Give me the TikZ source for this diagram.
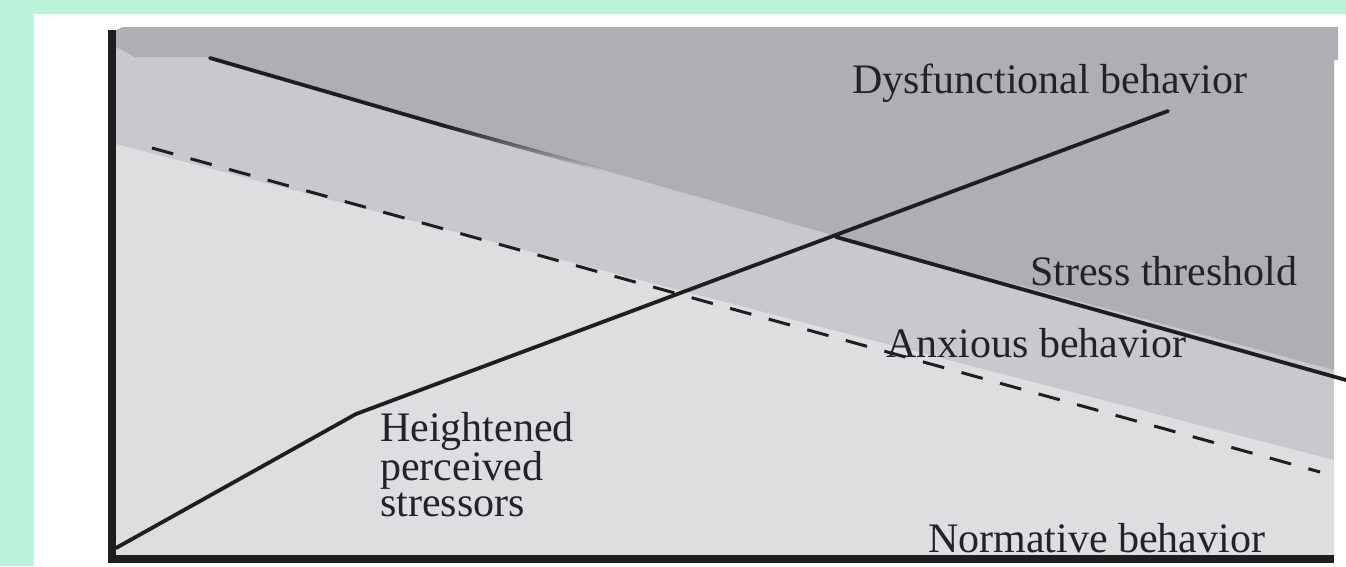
\documentclass[tikz,border=0pt]{standalone}
\usepackage{fontspec}
\setmainfont{Liberation Serif}
\usetikzlibrary{fadings}
\definecolor{mint}{RGB}{186,244,219}
\definecolor{darkgr}{RGB}{174,175,179}
\definecolor{midgr}{RGB}{200,201,204}
\definecolor{lightgr}{RGB}{221,222,224}
\definecolor{ink}{RGB}{34,34,44}
\definecolor{linec}{RGB}{30,30,32}
\begin{document}
\begin{tikzpicture}[x=1pt,y=-1pt,
  lbl/.style={anchor=base west,inner sep=0pt,text=ink,font=\fontsize{42}{36}\selectfont},
  curve/.style={draw=linec,line width=3.8pt,line cap=round,line join=round},
  dashline/.style={draw=linec,line width=3pt,dash pattern=on 22pt off 18pt},
  axis/.style={draw=linec,line width=8pt,line join=miter}]
\useasboundingbox (0,0) rectangle (1346,566);
\fill[mint] (0,0) rectangle (1346,566);
\fill[white] (34,14) rectangle (1346,566);
% regions
\fill[lightgr] (116,30) rectangle (1334,555);
\fill[midgr] (116,30) -- (1334,30) -- (1334,460) -- (116,144) -- cycle;
\fill[darkgr] (116,30) -- (123,27) -- (1338,27) -- (1338,60) -- (1334,60) -- (1334,370)
  -- (836,236) -- (445,125) -- (210,57) -- (135,57) -- (116,47) -- cycle;
% coordinates
\coordinate (o) at (116,548);
\coordinate (k) at (356,414);
\coordinate (e) at (1168,111);
\coordinate (s0) at (210,58);
\coordinate (s1) at (445,126);
\coordinate (s2) at (600,169);
\coordinate (s3) at (836,237);
\coordinate (s4) at (1346,380);
\coordinate (d0) at (152,148);
\coordinate (d1) at (1320,472);
\coordinate (ytop) at (112,30);
\coordinate (corner) at (112,559);
\coordinate (xend) at (1334,559);
% stress threshold
\draw[curve] (s0) -- (s1);
\draw[curve,path fading=east] (s1) -- (s2);
\draw[curve] (s3) -- (s4);
% anxious dashed
\draw[dashline] (d0) -- (d1);
% perceived stressors
\draw[curve] (o) -- (k) -- (e);
% axes
\draw[axis] (ytop) -- (corner) -- (xend);
% labels
\node[lbl] (dys) at (852,93) {Dysfunctional behavior};
\node[lbl] (st) at (1030,285) {Stress threshold};
\node[lbl] (anx) at (886,357) {Anxious behavior};
\node[lbl,anchor=north west,align=left] (hps) at (380,412) {Heightened\\perceived\\stressors};
\node[lbl] (nor) at (928,552) {Normative behavior};
\end{tikzpicture}
\end{document}
